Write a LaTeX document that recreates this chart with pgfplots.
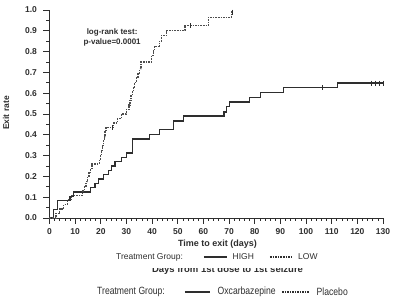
\documentclass[border=0pt]{standalone}
\usepackage{fontspec}
\setmainfont{Liberation Sans}
\newfontfamily\narrowfont[FakeStretch=0.82]{Liberation Sans}
\usepackage{pgfplots}
\pgfplotsset{compat=1.18}
\definecolor{ink}{HTML}{2E2E2E}
\begin{document}
\begin{tikzpicture}[x=1pt,y=1pt]
\useasboundingbox (-49.5,-86) rectangle (350.5,218);
\begin{axis}[
  at={(0,0)}, anchor=origin,
  scale only axis, width=333.5pt, height=208pt,
  xmin=0, xmax=130, ymin=0, ymax=1,
  axis x line=bottom, axis y line=left,
  axis line style={-, line width=0.8pt, color=ink},
  xtick={0,10,...,130}, minor x tick num=4,
  ytick={0,0.1,0.2,0.3,0.4,0.5,0.6,0.7,0.8,0.9,1.0}, minor y tick num=1,
  tick align=outside, major tick length=6pt, minor tick length=3pt,
  tick style={line width=0.7pt, color=ink},
  /pgf/number format/assume math mode=true,
  yticklabel style={/pgf/number format/.cd, fixed, fixed zerofill, precision=1, /tikz/.cd, xshift=-3pt},
  xticklabel style={yshift=-1.5pt},
  ticklabel style={font=\fontsize{8.5}{9}\selectfont\bfseries, text=ink},
  clip=false,
]
% HIGH (solid)
\addplot[const plot, line width=1.3pt, color=ink] coordinates {
(0,0) (1.5,0.042) (3,0.083) (8,0.104) (9.3,0.125) (16,0.146) (17.7,0.167)
(19,0.188) (21,0.208) (23,0.229) (24.2,0.25) (25.5,0.271) (28,0.292) (30.1,0.312)
(32.3,0.38) (38.9,0.40) (43,0.424) (48.2,0.467) (52.2,0.49) (68,0.51) (69.1,0.535)
(70.1,0.557) (78,0.58) (82.2,0.603) (91.2,0.626) (112.2,0.649) (130,0.649)};
% LOW (dashed)
\addplot[const plot, line width=1.2pt, color=ink!85, dash pattern=on 1.6pt off 1pt] coordinates {
(0,0) (2.5,0.022) (4,0.043) (5.5,0.065) (7,0.087) (8.5,0.109)
(13,0.13) (13.6,0.152) (14.2,0.174) (14.8,0.196) (15.4,0.217) (16,0.239) (16.6,0.26)
(19.4,0.283) (19.8,0.304) (20.2,0.326) (20.6,0.348) (21,0.37) (21.3,0.391) (21.6,0.413) (22,0.435)
(25,0.457) (26.5,0.478) (28,0.5) (30,0.522) (31,0.543) (31.4,0.565) (31.8,0.587) (32.2,0.609)
(32.7,0.63) (33.2,0.652) (34,0.674) (34.5,0.696) (35,0.717) (35.7,0.75)
(39.8,0.783) (40.5,0.804) (41,0.826) (42.8,0.85) (43.6,0.878) (45.7,0.9)
(52.8,0.925) (61.9,0.965) (71,0.99) (71.4,0.99)};
% censor marks
\addplot[only marks, mark=|, mark size=2.5pt, mark options={line width=0.8pt, color=ink}] coordinates {
(106.5,0.626) (125.5,0.649) (127,0.649) (128.5,0.649) (130,0.649)
(24.5,0.435) (55,0.925) (71.4,0.99)};
\node[font=\fontsize{8}{9.5}\selectfont\bfseries, align=center, text=ink] at (axis cs:24.4,0.868) {log-rank test:\\p-value=0.0001};
\end{axis}
\node[rotate=90, font=\fontsize{8.5}{9}\selectfont\bfseries, text=ink] at (-43.5,105) {Exit rate};
\node[font=\fontsize{9}{10}\selectfont\bfseries, text=ink] at (168,-26) {Time to exit (days)};
% legend 1
\node[anchor=west, font=\fontsize{8.5}{9}\selectfont, text=ink, inner sep=0pt] at (66.5,-39) {Treatment Group:};
\draw[line width=1.2pt, ink] (154.5,-39) -- (177.5,-39);
\node[anchor=west, font=\fontsize{8.5}{9}\selectfont, text=ink, inner sep=0pt] at (183,-39) {HIGH};
\draw[line width=1.1pt, ink, dash pattern=on 1.6pt off 1pt] (220.5,-39) -- (243.5,-39);
\node[anchor=west, font=\fontsize{8.5}{9}\selectfont, text=ink, inner sep=0pt] at (248.5,-39) {LOW};
% half cut line
\begin{scope}
\clip (-49.5,-86) rectangle (350.5,-51);
\node[anchor=base, font=\fontsize{9.5}{10}\selectfont\bfseries, text=ink, inner sep=0pt] at (178,-54.5) {Days from 1st dose to 1st seizure};
\end{scope}
% legend 2
\node[anchor=west, font=\fontsize{10.5}{12}\narrowfont, text=ink, inner sep=0pt] at (47.5,-74) {Treatment Group:};
\draw[line width=1.2pt, ink] (135.5,-74) -- (160.5,-74);
\node[anchor=west, font=\fontsize{10.5}{12}\narrowfont, text=ink, inner sep=0pt] at (168,-74) {Oxcarbazepine};
\draw[line width=1.1pt, ink, dash pattern=on 1.3pt off 1.2pt] (233,-74) -- (259.5,-74);
\node[anchor=west, font=\fontsize{10.5}{12}\narrowfont, text=ink, inner sep=0pt] at (267,-74) {Placebo};
\end{tikzpicture}
\end{document}
